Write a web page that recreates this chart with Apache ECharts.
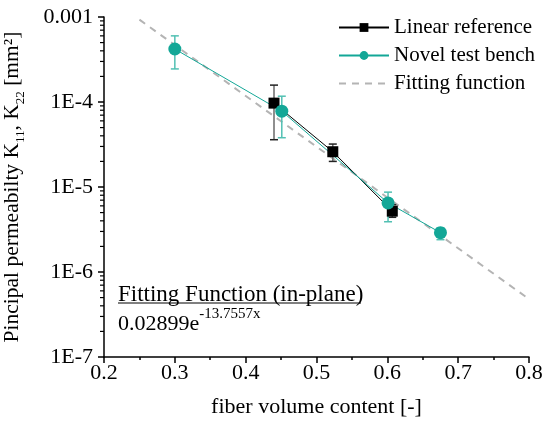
<!DOCTYPE html>
<html>
<head>
<meta charset="utf-8">
<script src="https://cdn.jsdelivr.net/npm/echarts@6/dist/echarts.min.js"></script>
<style>
  html, body { margin: 0; padding: 0; background: #fff; }
  #chart { width: 546px; height: 433px; }
</style>
</head>
<body>
<div id="chart"></div>
<script>
// 数据
const refX = [0.44, 0.523, 0.607];
const refY = [9.7e-5, 2.6e-5, 5.2e-6];
const refLow = [3.6e-5, 2.0e-5, 4.4e-6];
const refHigh = [1.58e-4, 3.2e-5, 6.2e-6];

const benchX = [0.30, 0.451, 0.601, 0.675];
const benchY = [4.2e-4, 7.8e-5, 6.5e-6, 2.9e-6];
const benchLow = [2.45e-4, 3.8e-5, 3.9e-6, 2.4e-6];
const benchHigh = [6.0e-4, 1.17e-4, 8.7e-6, 3.3e-6];

const fitX = [0.25, 0.8];
const fitY = [9.3e-4, 4.8e-7];

// log minor ticks: mantissas in each decade
const minorMantissa = [2, 3, 4, 5, 6, 7, 8, 9];
const decades = [-7, -6, -5, -4];

const FONT = 'Liberation Serif';
const TEAL = '#13a797';
const TEAL_ERR = '#52c0b3';

const chart = echarts.init(document.getElementById('chart'));

const pairs = (xs, ys) => xs.map((x, i) => [x, ys[i]]);
const errData = (xs, lo, hi) => xs.map((x, i) => [x, lo[i], hi[i]]);
const minorData = [];
decades.forEach(d => minorMantissa.forEach(m => minorData.push([0.2, m * Math.pow(10, d)])));

// 误差线
const errorBar = (color, capColor) => function (params, api) {
  const x = api.value(0);
  const lo = api.coord([x, api.value(1)]);
  const hi = api.coord([x, api.value(2)]);
  const w = 4;
  return {
    type: 'group',
    children: [
      { type: 'line', shape: { x1: lo[0], y1: lo[1], x2: hi[0], y2: hi[1] }, style: { stroke: color, lineWidth: 1.5 } },
      { type: 'line', shape: { x1: lo[0] - w, y1: lo[1], x2: lo[0] + w, y2: lo[1] }, style: { stroke: capColor, lineWidth: 1.5 } },
      { type: 'line', shape: { x1: hi[0] - w, y1: hi[1], x2: hi[0] + w, y2: hi[1] }, style: { stroke: capColor, lineWidth: 1.5 } }
    ]
  };
};

const option = {
  animation: false,
  textStyle: { fontFamily: FONT },
  grid: { left: 104, right: 17, top: 17, bottom: 76, outerBoundsMode: 'none' },
  legend: {
    orient: 'vertical',
    left: 333,
    top: 12,
    itemWidth: 50,
    itemHeight: 11,
    itemGap: 7,
    data: [
      'Linear reference',
      'Novel test bench',
      { name: 'Fitting function', itemStyle: { opacity: 0 } }
    ],
    textStyle: { fontFamily: FONT, fontSize: 21, color: '#000' }
  },
  xAxis: {
    type: 'value',
    min: 0.2,
    max: 0.8,
    interval: 0.1,
    name: 'fiber volume content [-]',
    nameLocation: 'middle',
    nameGap: 39,
    nameTextStyle: { fontFamily: FONT, fontSize: 22, color: '#000' },
    axisLine: { lineStyle: { color: '#000', width: 1.5 } },
    axisTick: { length: 6, lineStyle: { color: '#000', width: 1.5 } },
    minorTick: { show: true, splitNumber: 2, length: 3, lineStyle: { color: '#000', width: 1.5 } },
    axisLabel: { fontFamily: FONT, fontSize: 22, color: '#000', margin: 5 },
    splitLine: { show: false }
  },
  yAxis: {
    type: 'log',
    logBase: 10,
    min: 1e-7,
    max: 1e-3,
    name: 'Pincipal permeabilty K{sub|11}, K{sub|22} [mm²]',
    nameLocation: 'middle',
    nameGap: 77,
    nameTextStyle: {
      fontFamily: FONT, fontSize: 21.5, color: '#000',
      rich: {
        sub: { fontFamily: FONT, fontSize: 13, color: '#000', verticalAlign: 'bottom', lineHeight: 30 }
      }
    },
    axisLine: { show: true, lineStyle: { color: '#000', width: 1.5 } },
    axisTick: { length: 6, lineStyle: { color: '#000', width: 1.5 } },
    axisLabel: {
      fontFamily: FONT, fontSize: 22, color: '#000', margin: 11,
      formatter: v => {
        const e = Math.round(Math.log10(v));
        return e === -3 ? '0.001' : '1E' + e;
      }
    },
    splitLine: { show: false }
  },
  graphic: [
    {
      type: 'text', left: 118, top: 283,
      style: { text: 'Fitting Function (in-plane)', fontFamily: FONT, fontSize: 23, fill: '#000' }
    },
    {
      type: 'line', shape: { x1: 118, y1: 303, x2: 361, y2: 303 },
      style: { stroke: '#000', lineWidth: 1 }
    },
    {
      type: 'text', left: 118, top: 307,
      style: {
        text: '0.02899e{sup|-13.7557x}',
        fontFamily: FONT, fontSize: 22, fill: '#000',
        rich: { sup: { fontFamily: FONT, fontSize: 15, fill: '#000', verticalAlign: 'top', lineHeight: 34 } }
      }
    }
  ],
  series: [
    {
      // minor ticks of the log axis
      type: 'custom',
      data: minorData,
      silent: true,
      clip: false,
      z: 5,
      renderItem: (params, api) => {
        const p = api.coord([api.value(0), api.value(1)]);
        return { type: 'line', shape: { x1: p[0] - 4, y1: p[1], x2: p[0], y2: p[1] }, style: { stroke: '#000', lineWidth: 1.2 } };
      }
    },
    {
      name: 'Fitting function',
      type: 'line',
      data: pairs(fitX, fitY),
      symbol: 'none',
      lineStyle: { color: '#b4b4b4', width: 2, type: [7, 6] },
      itemStyle: { color: '#b4b4b4' },
      z: 1
    },
    {
      type: 'custom',
      data: errData(refX, refLow, refHigh),
      renderItem: errorBar('#6a6a6a', '#222'),
      z: 2
    },
    {
      type: 'custom',
      data: errData(benchX, benchLow, benchHigh),
      renderItem: errorBar(TEAL_ERR, TEAL_ERR),
      z: 2
    },
    {
      name: 'Linear reference',
      type: 'line',
      data: pairs(refX, refY),
      symbol: 'rect',
      symbolSize: 11,
      lineStyle: { color: '#000', width: 1 },
      itemStyle: { color: '#000' },
      z: 3
    },
    {
      name: 'Novel test bench',
      type: 'line',
      data: pairs(benchX, benchY),
      symbol: 'circle',
      symbolSize: 13,
      lineStyle: { color: TEAL, width: 1 },
      itemStyle: { color: TEAL },
      z: 3
    }
  ]
};

chart.setOption(option);
</script>
</body>
</html>
